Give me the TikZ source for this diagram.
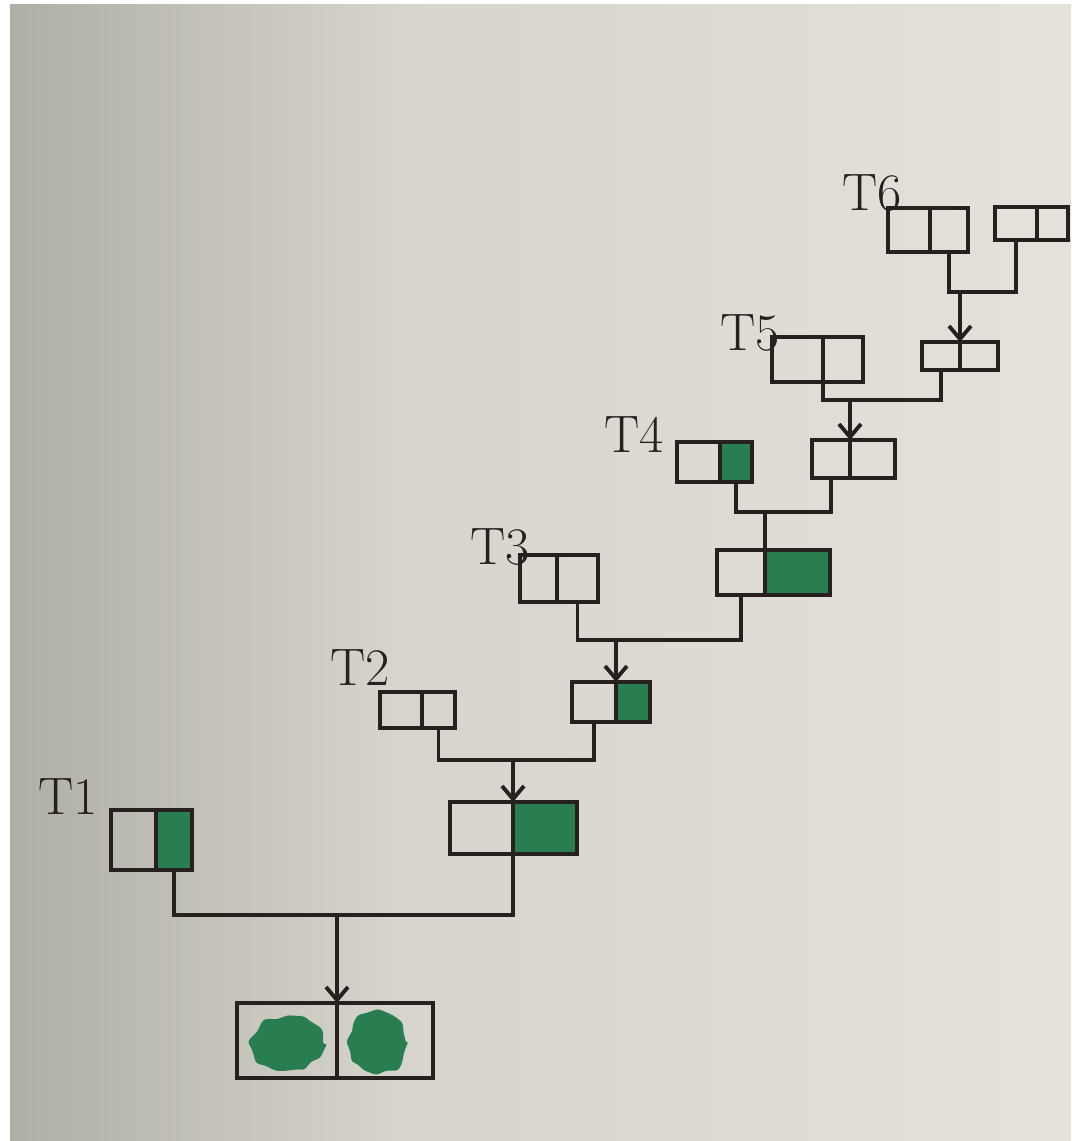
\documentclass[tikz,border=0pt]{standalone}
\usepackage{tikz}
\usetikzlibrary{positioning, arrows.meta, decorations.pathmorphing}
\definecolor{encre}{RGB}{38, 32, 30}
\definecolor{vertfeutre}{RGB}{40, 126, 80}
\definecolor{papiergauche}{RGB}{176, 175, 165}
\definecolor{papiermilieu}{RGB}{214, 212, 204}
\definecolor{papierdroite}{RGB}{228, 226, 218}
\tikzset{
  cellule/.style={draw=encre, line width=1.1pt, inner sep=0pt, outer sep=0pt, anchor=north west},
  pleine/.style={fill=vertfeutre},
  lien/.style={draw=encre, line width=1.1pt},
  fleche/.style={lien, -{Straight Barb[length=1.3mm, width=2.2mm]}},
  etiquette/.style={font=\fontsize{15}{17}\selectfont, text=encre},
  tache/.style={fill=vertfeutre, decorate, decoration={random steps, segment length=0.9mm, amplitude=0.35mm}, rounded corners=0.3mm}
}
\pgfmathsetseed{5}

\begin{document}
\begin{tikzpicture}
    \useasboundingbox (0,0) rectangle (10.71,-11.41);
    % feuille
    \fill[white] (0,0) rectangle (10.71,-11.41);
    \shade[left color=papiergauche, right color=papiermilieu] (0.10,-0.05) rectangle (4.00,-11.41);
    \shade[left color=papiermilieu, right color=papierdroite] (3.99,-0.05) rectangle (10.71,-11.41);
    % T6
    \node[etiquette] (l6) at (8.72,-1.93) {T6};
    \node[cellule, minimum width=0.42cm, minimum height=0.44cm] (t6a-l) at (8.88,-2.08) {};
    \node[cellule, minimum width=0.38cm, minimum height=0.44cm, right=0pt of t6a-l] (t6a-r) {};
    \node[cellule, minimum width=0.42cm, minimum height=0.33cm] (t6b-l) at (9.95,-2.07) {};
    \node[cellule, minimum width=0.31cm, minimum height=0.33cm, right=0pt of t6b-l] (t6b-r) {};
    % T5
    \node[etiquette] (l5) at (7.50,-3.33) {T5};
    \node[cellule, minimum width=0.51cm, minimum height=0.45cm] (t5a-l) at (7.72,-3.37) {};
    \node[cellule, minimum width=0.40cm, minimum height=0.45cm, right=0pt of t5a-l] (t5a-r) {};
    \node[cellule, minimum width=0.38cm, minimum height=0.28cm] (t5b-l) at (9.22,-3.42) {};
    \node[cellule, minimum width=0.38cm, minimum height=0.28cm, right=0pt of t5b-l] (t5b-r) {};
    % T4
    \node[etiquette] (l4) at (6.34,-4.35) {T4};
    \node[cellule, minimum width=0.43cm, minimum height=0.40cm] (t4a-l) at (6.77,-4.42) {};
    \node[cellule, pleine, minimum width=0.32cm, minimum height=0.40cm, right=0pt of t4a-l] (t4a-r) {};
    \node[cellule, minimum width=0.38cm, minimum height=0.38cm] (t4b-l) at (8.12,-4.40) {};
    \node[cellule, minimum width=0.45cm, minimum height=0.38cm, right=0pt of t4b-l] (t4b-r) {};
    % T3
    \node[etiquette] (l3) at (5.00,-5.47) {T3};
    \node[cellule, minimum width=0.37cm, minimum height=0.47cm] (t3a-l) at (5.20,-5.55) {};
    \node[cellule, minimum width=0.41cm, minimum height=0.47cm, right=0pt of t3a-l] (t3a-r) {};
    \node[cellule, minimum width=0.48cm, minimum height=0.45cm] (t3b-l) at (7.17,-5.50) {};
    \node[cellule, pleine, minimum width=0.65cm, minimum height=0.45cm, right=0pt of t3b-l] (t3b-r) {};
    % T2
    \node[etiquette] (l2) at (3.60,-6.68) {T2};
    \node[cellule, minimum width=0.42cm, minimum height=0.36cm] (t2a-l) at (3.80,-6.92) {};
    \node[cellule, minimum width=0.33cm, minimum height=0.36cm, right=0pt of t2a-l] (t2a-r) {};
    \node[cellule, minimum width=0.44cm, minimum height=0.40cm] (t2b-l) at (5.72,-6.82) {};
    \node[cellule, pleine, minimum width=0.34cm, minimum height=0.40cm, right=0pt of t2b-l] (t2b-r) {};
    % T1
    \node[etiquette] (l1) at (0.68,-7.97) {T1};
    \node[cellule, minimum width=0.45cm, minimum height=0.60cm] (t1a-l) at (1.11,-8.10) {};
    \node[cellule, pleine, minimum width=0.36cm, minimum height=0.60cm, right=0pt of t1a-l] (t1a-r) {};
    \node[cellule, minimum width=0.63cm, minimum height=0.52cm] (t1b-l) at (4.50,-8.02) {};
    \node[cellule, pleine, minimum width=0.64cm, minimum height=0.52cm, right=0pt of t1b-l] (t1b-r) {};
    % resultat
    \node[cellule, minimum width=1.00cm, minimum height=0.75cm] (res-l) at (2.37,-10.03) {};
    \node[cellule, minimum width=0.96cm, minimum height=0.75cm, right=0pt of res-l] (res-r) {};
    \fill[tache] (2.87,-10.43) ellipse [x radius=0.36, y radius=0.26];
    \fill[tache] (3.77,-10.42) ellipse [x radius=0.29, y radius=0.31];
    % fusions
    \coordinate (j6) at (t5b-l.north east |- 0,-2.92);
    \draw[lien] (t6a-r.south) |- (j6) -| (t6b-l.south);
    \draw[fleche] (j6) -- (t5b-l.north east);
    \coordinate (j5) at (t4b-l.north east |- 0,-4.00);
    \draw[lien] (t5a-l.south east) |- (j5) -| (t5b-l.south);
    \draw[fleche] (j5) -- (t4b-l.north east);
    \coordinate (j4) at (t3b-l.north east |- 0,-5.12);
    \draw[lien] (t4a-r.south) |- (j4) -| (t4b-l.south);
    \draw[lien] (j4) -- (t3b-l.north east);
    \coordinate (j3) at (t2b-l.north east |- 0,-6.40);
    \draw[lien] (t3a-r.south) |- (j3) -| (t3b-l.south);
    \draw[fleche] (j3) -- (t2b-l.north east);
    \coordinate (j2) at (t1b-l.north east |- 0,-7.60);
    \draw[lien] (t2a-r.south) |- (j2) -| (t2b-l.south);
    \draw[fleche] (j2) -- (t1b-l.north east);
    \coordinate (j1) at (res-l.north east |- 0,-9.15);
    \draw[lien] (t1a-r.south) |- (j1) -| (t1b-l.south east);
    \draw[fleche] (j1) -- (res-l.north east);
\end{tikzpicture}
\end{document}
